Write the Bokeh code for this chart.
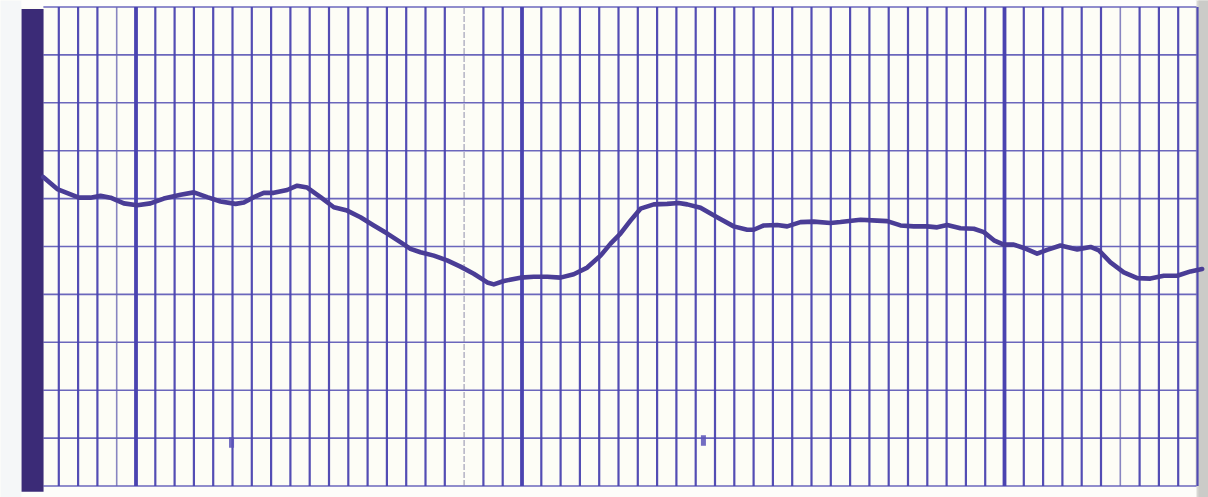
from bokeh.plotting import figure
from bokeh.models import Range1d
from bokeh.embed import file_html
from bokeh.resources import INLINE

# Chart-recorder trace: x in chart divisions, y in chart divisions (0 = bottom line, 10 = top line)
trace_x = [0.19, 0.92, 2.04, 2.64, 3.16, 3.68, 4.37, 5.06, 5.75, 6.44, 7.31, 8.00, 8.69, 9.38,
           10.16, 10.59, 11.10, 11.62, 12.14, 12.83, 13.35, 13.87, 14.56, 15.25, 15.94, 16.63,
           17.32, 18.02, 18.70, 19.22, 19.74, 20.43, 21.12, 21.81, 22.50, 23.20, 23.54, 24.06,
           24.92, 25.61, 26.31, 26.99, 27.68, 28.38, 29.07, 29.59, 30.10, 30.62, 31.14, 31.83,
           32.52, 33.12, 33.56, 34.25, 35.11, 35.97, 36.67, 37.01, 37.53, 38.22, 38.74, 39.43,
           40.12, 40.98, 41.50, 42.54, 43.40, 43.92, 44.61, 45.30, 45.99, 46.51, 47.03, 47.72,
           48.41, 48.93, 49.45, 49.96, 50.48, 51.00, 51.69, 52.21, 52.90, 53.77, 54.46, 54.89,
           55.49, 56.18, 56.88, 57.56, 58.25, 58.95, 59.64, 60.24]
trace_y = [6.45, 6.20, 6.02, 6.02, 6.06, 6.02, 5.90, 5.86, 5.90, 6.00, 6.08, 6.13, 6.03, 5.94,
           5.89, 5.92, 6.03, 6.12, 6.12, 6.18, 6.27, 6.23, 6.03, 5.82, 5.75, 5.61,
           5.44, 5.27, 5.09, 4.95, 4.88, 4.81, 4.71, 4.58, 4.43, 4.25, 4.21, 4.28,
           4.35, 4.37, 4.37, 4.35, 4.42, 4.56, 4.81, 5.06, 5.27, 5.54, 5.79, 5.88,
           5.89, 5.91, 5.88, 5.81, 5.61, 5.42, 5.35, 5.35, 5.44, 5.45, 5.42, 5.51,
           5.52, 5.49, 5.51, 5.56, 5.54, 5.53, 5.44, 5.42, 5.42, 5.40, 5.45, 5.38,
           5.37, 5.30, 5.13, 5.04, 5.04, 4.97, 4.85, 4.93, 5.02, 4.94, 4.99, 4.92,
           4.67, 4.46, 4.34, 4.33, 4.39, 4.39, 4.48, 4.53]

# chart paper divisions
v_divisions = list(range(1, 61))
h_divisions = list(range(0, 11))
heavy_divisions = [5, 25, 50]
light_divisions = [4, 56]
fold_divisions = [22]

PAPER = "#fdfdf6"
GRID = "#4a43b0"
HGRID = "#5b56b6"
INK = "#4a3d96"
BAR = "#3b2b77"

p = figure(width=1208, height=497, output_backend="svg", toolbar_location=None,
           x_range=Range1d(-2.021, 60.57), y_range=Range1d(-0.240, 10.136),
           x_axis_location=None, y_axis_location=None, min_border=0,
           background_fill_color=PAPER, border_fill_color=PAPER, outline_line_color=None)
p.grid.visible = False

# left edge of the scan (outside paper) and right shadow
p.quad(left=[-2.2], right=[-0.93], bottom=[-0.4], top=[10.3], fill_color="#f5f7f8", line_color=None)
p.quad(left=[59.9], right=[60.7], bottom=[-0.4], top=[10.3], fill_color="#d8d8d4", line_color=None)
p.quad(left=[60.05], right=[60.7], bottom=[-0.4], top=[10.3], fill_color="#cbcbc8", line_color=None)
# margins above and below the paper's ruled area
p.quad(left=[-0.93], right=[59.95], bottom=[10.0], top=[10.3], fill_color="#fefefc", line_color=None)
p.quad(left=[-0.93], right=[59.95], bottom=[-0.4], top=[0.0], fill_color="#fdfdfa", line_color=None)

# horizontal lines
p.segment(x0=[0.2] * len(h_divisions), x1=[59.95] * len(h_divisions), y0=h_divisions, y1=h_divisions,
          line_color=HGRID, line_width=1.6, line_alpha=0.9)

# vertical lines
special = heavy_divisions + light_divisions + fold_divisions
normal = [k for k in v_divisions if k not in special]
p.segment(x0=normal, x1=normal, y0=[0] * len(normal), y1=[10] * len(normal),
          line_color=GRID, line_width=2.2, line_alpha=0.95)
p.segment(x0=light_divisions, x1=light_divisions, y0=[0] * 2, y1=[10] * 2,
          line_color="#6a66b4", line_width=1.6, line_alpha=0.8)
p.segment(x0=fold_divisions, x1=fold_divisions, y0=[0], y1=[10],
          line_color="#8a88a8", line_width=1.2, line_alpha=0.8, line_dash="6 2")
p.segment(x0=heavy_divisions, x1=heavy_divisions, y0=[0] * 3, y1=[10] * 3,
          line_color=GRID, line_width=3.8)

# dark border bar on the left
p.quad(left=[-0.93], right=[0.21], bottom=[-0.12], top=[9.96], fill_color=BAR, line_color=None)

# small ink marks on the paper
p.rect(x=[9.95, 34.4], y=[0.91, 0.95], width=0.26, height=0.22, fill_color="#5a53b8",
       line_color=None, fill_alpha=0.85)

# recorded trace
p.line(trace_x, trace_y, line_color=INK, line_width=4.6, line_join="round", line_cap="round")

open("out.html", "w").write(file_html(p, INLINE))
